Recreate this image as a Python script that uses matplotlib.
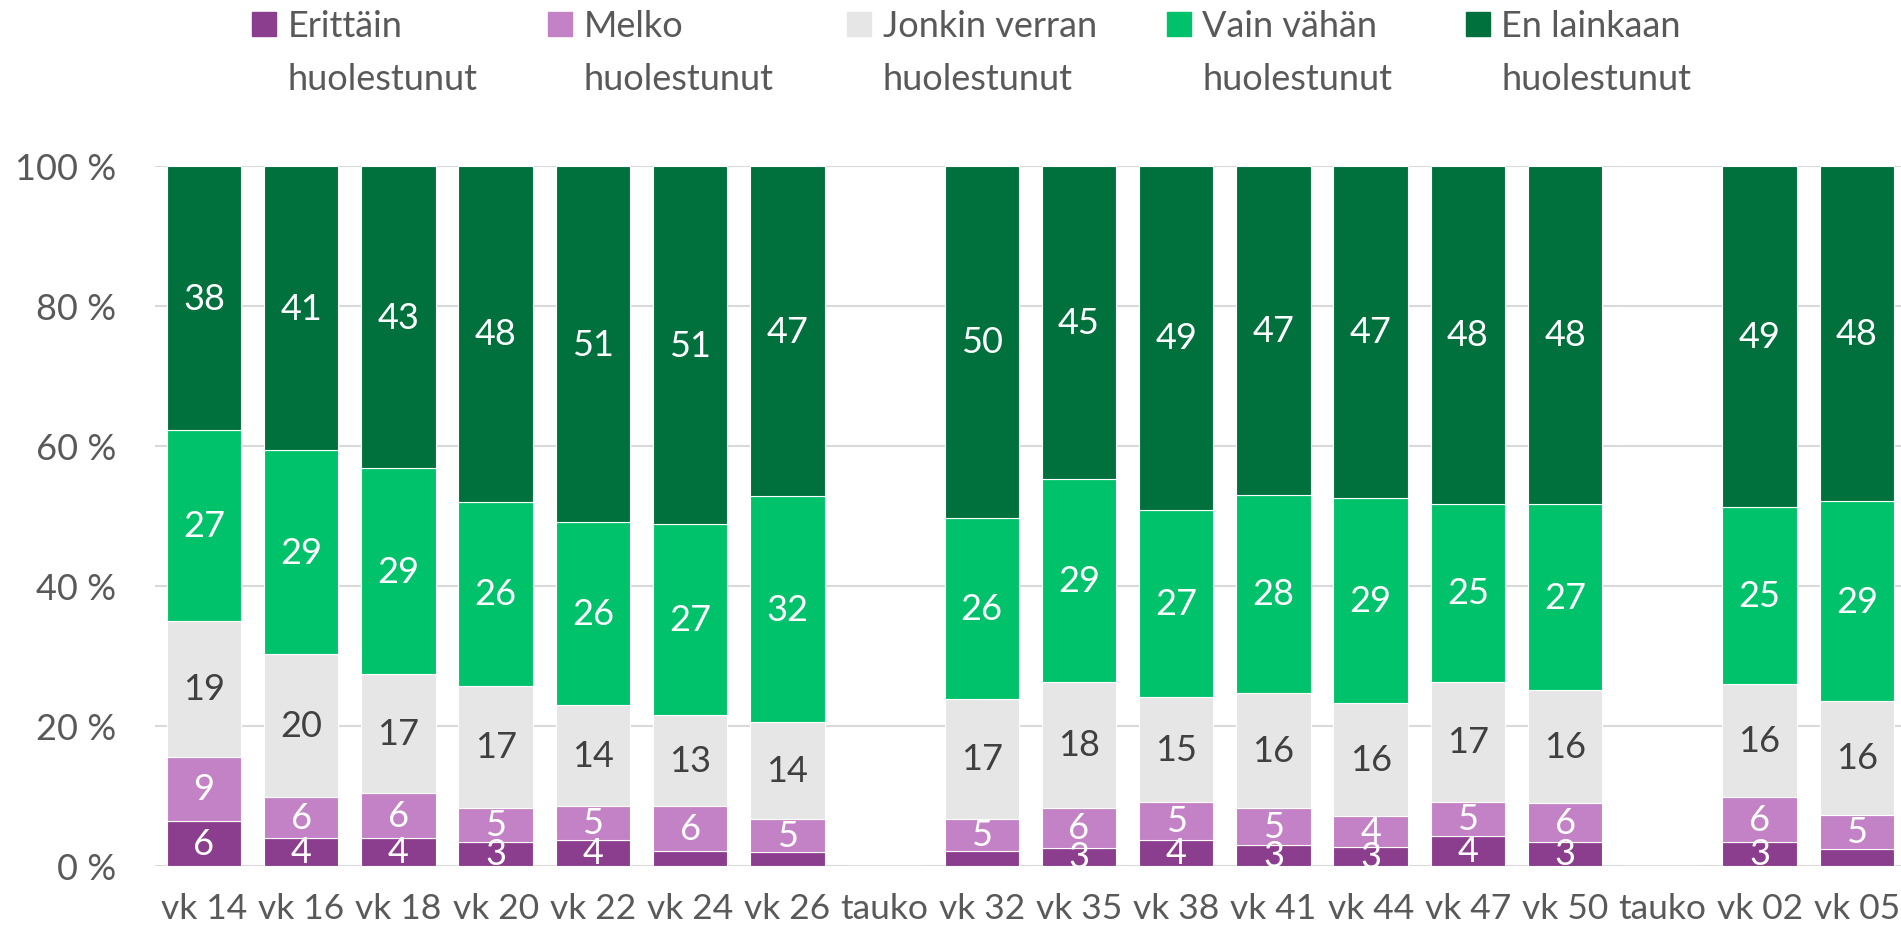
import numpy as np
import matplotlib
matplotlib.use("Agg")
import matplotlib.pyplot as plt
from matplotlib.patches import Rectangle

plt.rcParams['font.family'] = ['Lato', 'DejaVu Sans']

nan = np.nan
categories = ['vk 14', 'vk 16', 'vk 18', 'vk 20', 'vk 22', 'vk 24', 'vk 26', 'tauko',
              'vk 32', 'vk 35', 'vk 38', 'vk 41', 'vk 44', 'vk 47', 'vk 50', 'tauko',
              'vk 02', 'vk 05']
erittain = [6.4, 4.0, 4.0, 3.4, 3.7, 2.1, 1.9, nan, 2.1, 2.6, 3.7, 3.0, 2.7, 4.3, 3.4, nan, 3.4, 2.4]
melko = [9.2, 5.8, 6.4, 4.9, 4.9, 6.4, 4.8, nan, 4.6, 5.7, 5.4, 5.3, 4.4, 4.8, 5.5, nan, 6.4, 4.9]
jonkin = [19.4, 20.4, 17.0, 17.4, 14.4, 13.1, 13.8, nan, 17.1, 18.0, 15.0, 16.4, 16.1, 17.2, 16.2, nan, 16.1, 16.2]
vain = [27.2, 29.2, 29.4, 26.3, 26.1, 27.2, 32.3, nan, 25.9, 29.0, 26.8, 28.3, 29.4, 25.4, 26.6, nan, 25.3, 28.6]
en = [37.8, 40.6, 43.2, 48.0, 50.9, 51.2, 47.2, nan, 50.3, 44.7, 49.1, 47.0, 47.4, 48.3, 48.3, nan, 48.8, 47.9]

series_names = ['Erittäin huolestunut', 'Melko huolestunut', 'Jonkin verran huolestunut',
                'Vain vähän huolestunut', 'En lainkaan huolestunut']
colors = ['#8B3E8E', '#C381C6', '#E6E6E6', '#00C26A', '#00703C']
label_colors = ['white', 'white', '#404040', 'white', 'white']
text_grey = '#595959'

W, H = 1901, 929
fig = plt.figure(figsize=(W / 100, H / 100), dpi=100)
ax = fig.add_axes([155.4 / W, 62.3 / H, 1750 / W, 699.7 / H])

data = np.array([erittain, melko, jonkin, vain, en])
totals = np.nansum(data, axis=0)
totals[totals == 0] = 1
x = np.arange(len(categories))
bottom = np.zeros(len(categories))

for vals, col, lcol in zip(data, colors, label_colors):
    share = np.nan_to_num(vals) / totals * 100
    ax.bar(x, share, width=0.765, bottom=bottom, color=col, edgecolor='white', linewidth=0.8)
    for i, v in enumerate(vals):
        # the 2 % segments have no label in the original
        if np.isnan(v) or v < 2.5:
            continue
        ax.text(x[i], bottom[i] + share[i] / 2, str(int(round(v))), ha='center', va='center',
                color=lcol, fontsize=26)
    bottom += share

ax.set_xlim(-0.5, len(categories) - 0.5)
ax.set_ylim(0, 100)
ax.set_yticks(range(0, 101, 20))
ax.set_yticklabels([f'{t} %' for t in range(0, 101, 20)])
ax.set_xticks(x)
ax.set_xticklabels(categories)
ax.tick_params(axis='y', length=0, pad=28, labelsize=26, labelcolor=text_grey)
ax.tick_params(axis='x', length=0, pad=19, labelsize=25.5, labelcolor=text_grey)
ax.yaxis.grid(True, color='#D9D9D9', linewidth=1.5)
ax.set_axisbelow(True)
for s in ax.spines.values():
    s.set_visible(False)

# legend, drawn by hand so the marker sits next to the first line
marker_x = [251.7, 547.7, 847, 1166.7, 1465.7]
for name, col, mx in zip(series_names, colors, marker_x):
    first, second = name.rsplit(' ', 1)
    fig.patches.append(Rectangle((mx / W, 1 - 36.7 / H), 24.3 / W, 24 / H,
                                 transform=fig.transFigure, color=col, figure=fig))
    tx = (mx + 35.7) / W
    fig.text(tx, 1 - 36.7 / H, first, va='baseline', ha='left', fontsize=26, color=text_grey)
    fig.text(tx, 1 - 90 / H, second, va='baseline', ha='left', fontsize=26, color=text_grey)

fig.savefig('out.png', dpi=100)
